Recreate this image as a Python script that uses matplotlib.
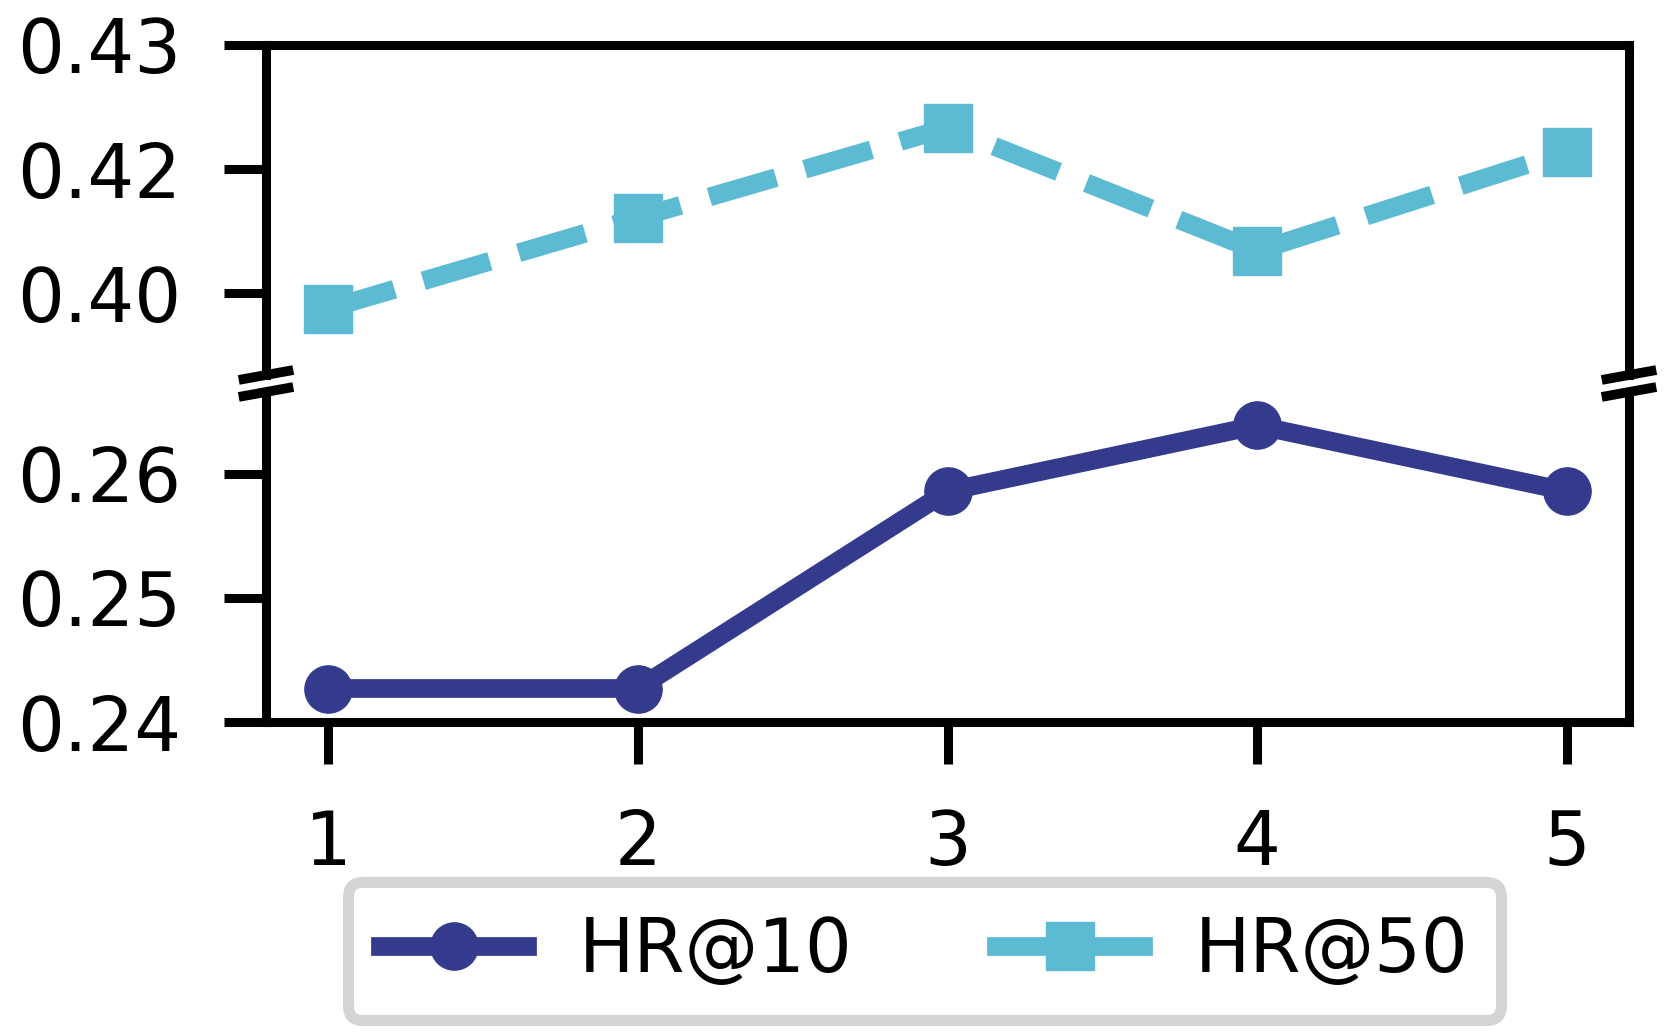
import matplotlib
matplotlib.use("Agg")
import matplotlib.pyplot as plt
import numpy as np

# values
x_vals = [1, 2, 3, 4, 5]
hr10 = [0.2427, 0.2427, 0.2586, 0.2639, 0.2586]
hr50 = [0.3981, 0.4091, 0.4200, 0.4051, 0.4171]

top_ticks = [0.40, 0.415, 0.43]
top_labels = ["0.40", "0.42", "0.43"]
bot_ticks = [0.24, 0.25, 0.26]
bot_labels = ["0.24", "0.25", "0.26"]

c_hr10 = "#353b8c"
c_hr50 = "#5dbad3"

W, H = 1667, 1033
fig = plt.figure(figsize=(W / 100, H / 100), dpi=100)

left, right = 266, 1629
top_y0, top_y1 = 45, 375
bot_y0, bot_y1 = 392, 722

ax_top = fig.add_axes([left / W, 1 - top_y1 / H, (right - left) / W, (top_y1 - top_y0) / H])
ax_bot = fig.add_axes([left / W, 1 - bot_y1 / H, (right - left) / W, (bot_y1 - bot_y0) / H])

lw = 13.5
ms = 34

l50, = ax_top.plot(x_vals, hr50, color=c_hr50, linestyle="--", linewidth=lw,
                   marker="s", markersize=ms, label="HR@50")
l10, = ax_bot.plot(x_vals, hr10, color=c_hr10, linestyle="-", linewidth=lw,
                   marker="o", markersize=ms, label="HR@10")

for ax in (ax_top, ax_bot):
    ax.set_xlim(0.8, 5.2)
    for s in ax.spines.values():
        s.set_linewidth(6.5)
    ax.tick_params(axis="y", direction="out", length=30, width=6.5, labelsize=53, pad=31)
    ax.tick_params(axis="x", direction="out", length=30, width=6.5, labelsize=53, pad=32)

ax_top.set_ylim(0.3901, 0.43)
ax_top.set_yticks(top_ticks)
ax_top.set_yticklabels(top_labels)
ax_top.spines["bottom"].set_visible(False)
ax_top.tick_params(axis="x", bottom=False, labelbottom=False)

ax_bot.set_ylim(0.24, 0.2666)
ax_bot.set_yticks(bot_ticks)
ax_bot.set_yticklabels(bot_labels)
ax_bot.spines["top"].set_visible(False)
ax_bot.set_xticks(x_vals)

# break marks
dx, dy = 0.02, 0.015
kw = dict(color="k", linewidth=7, clip_on=False, solid_capstyle="butt")
for xs in (0, 1):
    ax_top.plot([xs - dx, xs + dx], [-dy, dy], transform=ax_top.transAxes, **kw)
    ax_bot.plot([xs - dx, xs + dx], [1 - dy, 1 + dy], transform=ax_bot.transAxes, **kw)

leg = fig.legend(handles=[l10, l50], loc="upper center", ncol=2,
                 bbox_to_anchor=(0.5545, 0.146), fontsize=53, frameon=True,
                 fancybox=True, handlelength=2.0, handletextpad=0.7,
                 columnspacing=1.95, borderpad=0.44, borderaxespad=0)
# the dash gap sits under the marker in the reference, so the handle reads solid
leg.get_lines()[1].set_linestyle("-")
frame = leg.get_frame()
frame.set_edgecolor("#d4d4d4")
frame.set_linewidth(8)
frame.set_alpha(1)

fig.savefig("out.png", dpi=100)
